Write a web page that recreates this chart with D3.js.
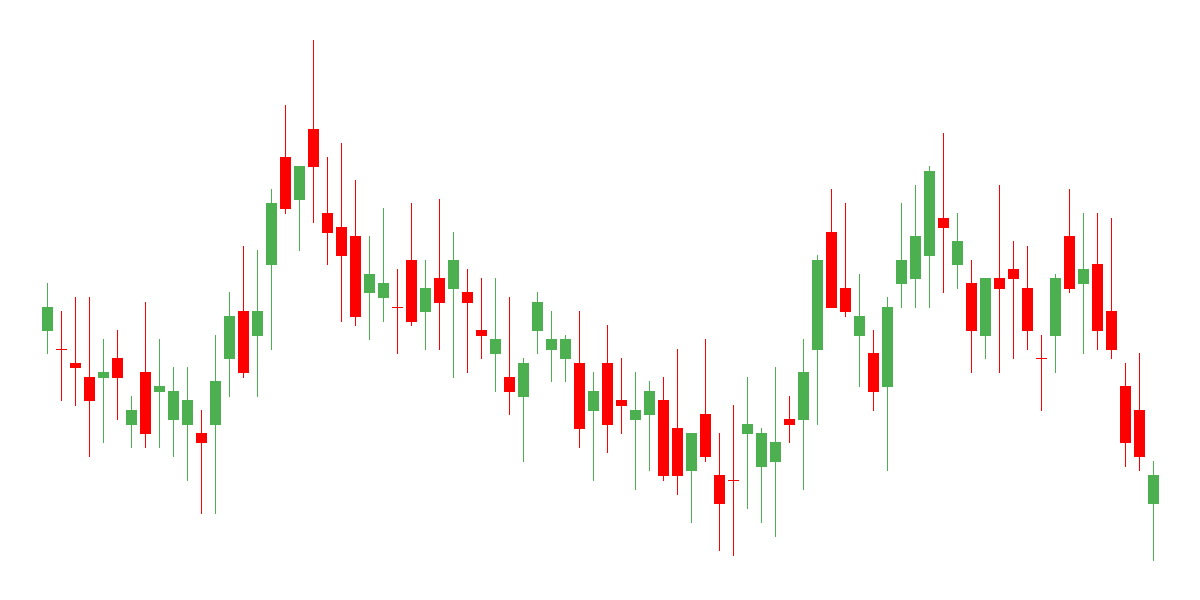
<!DOCTYPE html>
<html>
<head>
<meta charset="utf-8">
<script src="https://cdn.jsdelivr.net/npm/d3@7"></script>
<style>
  html, body { margin: 0; padding: 0; background: #ffffff; }
  svg { display: block; }
</style>
</head>
<body>
<svg id="chart" width="1200" height="600"></svg>
<script>
// Session index (no axis labels shown in the chart)
const sessions = d3.range(80);

const openValues = [
  269, 250.7, 237, 223, 222.3, 242, 175.3, 228, 208.3, 180.3,
  175.3, 167, 175.3, 241.3, 289, 264.3, 335, 443, 400.3, 471,
  387, 373, 364, 307.3, 302.3, 293, 340, 288.3, 322, 311.3,
  308, 270, 246.3, 223, 203.3, 269.3, 250.3, 241.3, 237, 189.3,
  237, 200, 180.3, 185.3, 200, 172, 129.3, 186, 125, 119.7,
  166.3, 133.3, 138.3, 181, 180.3, 250.3, 368, 312, 264.3, 247,
  213.3, 316.3, 321.3, 344.3, 382, 335.3, 317, 264.3, 322, 331,
  312, 241.7, 264.3, 364, 316.3, 336, 289, 214, 190, 96.3
];

const highValues = [
  316.7, 289, 303, 303, 261, 270, 204, 298, 261, 233,
  233, 190, 265, 308, 354, 350, 411, 495, 434, 560,
  443, 457, 420, 364, 392, 331, 397, 340, 401, 368,
  331, 322, 322, 303, 242, 308, 289, 265, 289, 228,
  275, 242, 228, 219, 223, 251, 167, 261, 167, 195,
  223, 172, 233, 204, 261, 345, 411, 397, 326, 270,
  303, 397, 415, 434, 467, 387, 340, 322, 415, 359,
  354, 265, 326, 411, 387, 387, 382, 237, 247, 139
];

const lowValues = [
  246.3, 199.3, 194.3, 143.3, 157.3, 180.3, 152.3, 152.3, 152.3, 143.3,
  119.3, 86.3, 86.3, 203.3, 222.3, 203.3, 250, 386.3, 349.3, 377.3,
  335.3, 278.3, 274.3, 260.3, 278.3, 246.3, 274.3, 250.3, 250.3, 222.3,
  227.3, 241.3, 208.3, 185.3, 138.3, 246.3, 218.3, 218.3, 152.3, 119.3,
  147.3, 166.3, 110.3, 129.3, 119.3, 105.3, 77.3, 138.3, 49.3, 44.3,
  91.3, 77.3, 63.3, 157.3, 110.3, 175.3, 292.3, 283.3, 213.3, 189.3,
  129.3, 292.3, 292.3, 292.3, 307.3, 311.3, 227.3, 241.3, 227.3, 241.3,
  250.3, 189.3, 227.3, 307.3, 246.3, 250.3, 241.3, 133.3, 129.3, 39.3
];

const closeValues = [
  293, 250.7, 232.3, 199.3, 228, 222.3, 190, 166.3, 214, 209,
  200, 157.3, 219, 284, 227.3, 289, 397, 391.3, 434, 433.3,
  367.3, 344.3, 283.3, 326, 317, 293, 278.3, 312, 297.3, 340,
  297.3, 264.3, 261, 208.3, 237, 298, 261, 261, 171.3, 209,
  175.3, 194.3, 190, 209, 124.3, 124.3, 167, 143.3, 96.3, 119.7,
  176, 167, 158, 175.3, 228, 340, 292.3, 288.3, 284, 208.3,
  293, 340, 364, 429, 372.3, 359, 269.3, 322, 311.3, 321.3,
  269.3, 241.7, 322, 311.3, 331, 269.3, 250.3, 157.3, 143.3, 125
];

const upColor = "#4CAF50";
const downColor = "#FF0000";

const data = sessions.map((s, i) => ({
  s,
  open: openValues[i],
  high: highValues[i],
  low: lowValues[i],
  close: closeValues[i]
}));

const svg = d3.select("#chart");

const x = d3.scalePoint()
  .domain(sessions)
  .range([47.5, 1153.5]);

const y = d3.scaleLinear()
  .domain([0, 600])
  .range([600, 0]);

const bodyWidth = 11;
const colorOf = d => d.close > d.open ? upColor : downColor;

const g = svg.append("g");

const candle = g.selectAll("g.candle")
  .data(data)
  .join("g")
  .attr("class", "candle");

candle.append("line")
  .attr("x1", d => x(d.s))
  .attr("x2", d => x(d.s))
  .attr("y1", d => y(d.high))
  .attr("y2", d => y(d.low))
  .attr("stroke", colorOf)
  .attr("stroke-width", 1)
  .attr("shape-rendering", "crispEdges");

candle.append("rect")
  .attr("x", d => x(d.s) - bodyWidth / 2)
  .attr("width", bodyWidth)
  .attr("y", d => y(Math.max(d.open, d.close)))
  .attr("height", d => Math.max(1, Math.abs(y(d.open) - y(d.close))))
  .attr("fill", colorOf)
  .attr("shape-rendering", "crispEdges");
</script>
</body>
</html>
